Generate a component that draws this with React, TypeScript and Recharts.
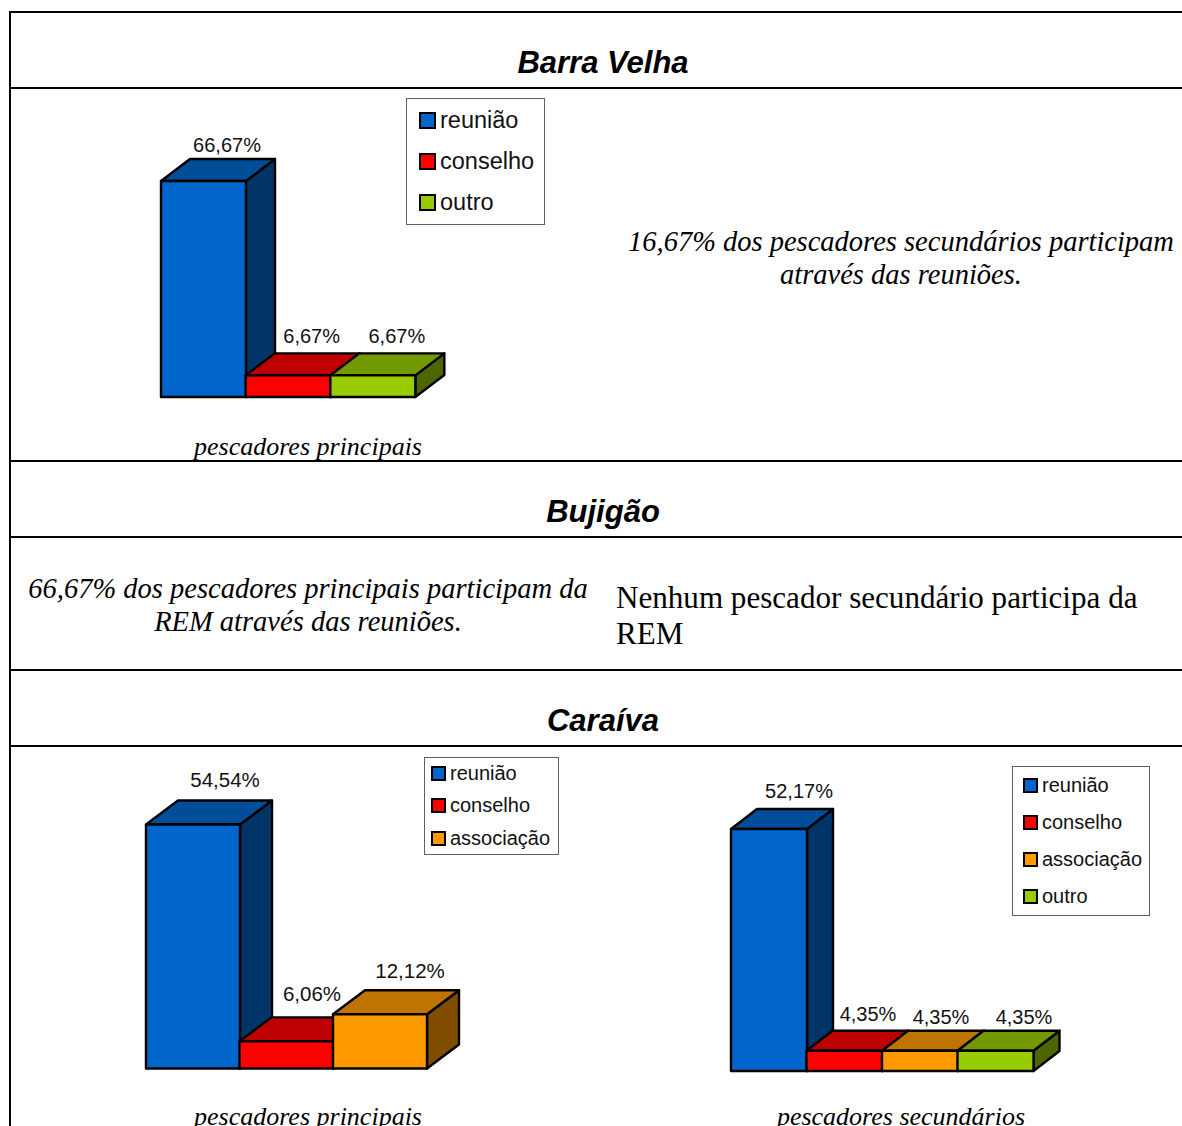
import React from "react";
import { BarChart, Bar, XAxis, YAxis, Cell, LabelList, Legend } from "recharts";

const SANS = "'Liberation Sans', Arial, sans-serif";
const SERIF = "'Liberation Serif', 'Times New Roman', serif";

// categories and values
const barraCats = ["reunião", "conselho", "outro"];
const barraVals = [66.67, 6.67, 6.67];
const caraivaPrincipalCats = ["reunião", "conselho", "associação"];
const caraivaPrincipalVals = [54.54, 6.06, 12.12];
const caraivaSecundarioCats = ["reunião", "conselho", "associação", "outro"];
const caraivaSecundarioVals = [52.17, 4.35, 4.35, 4.35];

const palette: Record<string, { front: string; top: string; side: string }> = {
  "reunião": { front: "#0066CC", top: "#004D99", side: "#003366" },
  "conselho": { front: "#FF0000", top: "#BF0000", side: "#800000" },
  "associação": { front: "#FF9900", top: "#BF7300", side: "#804D00" },
  "outro": { front: "#99CC00", top: "#739900", side: "#4D6600" },
};

const fmt = (v: number) => v.toFixed(2).replace(".", ",") + "%";

const Box3D = (depthX: number, depthY: number) => (props: any) => {
  const { x, y, width, height, payload } = props;
  const c = palette[payload.name];
  const r = x + width;
  const b = y + height;
  const common = { stroke: "#000", strokeWidth: 2.4, strokeLinejoin: "round" as const };
  return (
    <g>
      <polygon points={`${r},${y} ${r + depthX},${y - depthY} ${r + depthX},${b - depthY} ${r},${b}`} fill={c.side} {...common} />
      <polygon points={`${x},${y} ${x + depthX},${y - depthY} ${r + depthX},${y - depthY} ${r},${y}`} fill={c.top} {...common} />
      <rect x={x} y={y} width={width} height={height} fill={c.front} {...common} />
    </g>
  );
};

type ChartProps = {
  cats: string[];
  vals: number[];
  box: { left: number; top: number; width: number; height: number };
  margin: { left: number; right: number; top: number; bottom: number };
  depth: [number, number];
  labelShift: [number, number][];
  labelSize: number;
  legend: { left: number; top: number; width: number; height: number; swatchX: number; textX: number; rows: number[]; font: number; swatch: number };
};

function LegendBox({ cats, l }: { cats: string[]; l: ChartProps["legend"] }) {
  return (
    <div style={{ position: "relative", width: l.width, height: l.height, boxSizing: "border-box", border: "1px solid #606060", background: "#fff" }}>
      {cats.map((c, i) => (
        <React.Fragment key={c}>
          <div style={{ position: "absolute", boxSizing: "border-box", left: l.swatchX, top: l.rows[i] - l.swatch / 2, width: l.swatch, height: l.swatch, background: palette[c].front, border: "2px solid #000" }} />
          <div style={{ position: "absolute", left: l.textX, top: l.rows[i] - 15, height: 30, lineHeight: "30px", fontFamily: SANS, fontSize: l.font, color: "#111", whiteSpace: "nowrap" }}>{c}</div>
        </React.Fragment>
      ))}
    </div>
  );
}

function Chart3D({ cats, vals, box, margin, depth, labelShift, labelSize, legend }: ChartProps) {
  const data = cats.map((name, i) => ({ name, value: vals[i] }));
  const shape = Box3D(depth[0], depth[1]);
  const renderLabel = (p: any) => {
    const { x, y, width, index, value } = p;
    const [dx, dy] = labelShift[index];
    return (
      <text x={x + width / 2 + depth[0] + dx} y={y - depth[1] + dy} textAnchor="middle" dominantBaseline="central" fontFamily={SANS} fontSize={labelSize} fill="#111">
        {fmt(value)}
      </text>
    );
  };
  return (
    <div style={{ position: "absolute", ...box }}>
      <BarChart width={box.width} height={box.height} data={data} margin={margin} barCategoryGap={0}>
        <XAxis dataKey="name" hide />
        <YAxis hide domain={[0, vals[0]]} />
        <Legend
          layout="vertical"
          align="center"
          verticalAlign="middle"
          wrapperStyle={{ left: legend.left, top: legend.top, width: legend.width, height: legend.height }}
          content={() => <LegendBox cats={cats} l={legend} />}
        />
        <Bar dataKey="value" isAnimationActive={false} shape={shape}>
          {data.map((d) => (
            <Cell key={d.name} fill={palette[d.name].front} />
          ))}
          <LabelList dataKey="value" content={renderLabel} />
        </Bar>
      </BarChart>
    </div>
  );
}

const HLine = ({ y }: { y: number }) => (
  <div style={{ position: "absolute", left: 9, top: y, width: 1173, height: 2, background: "#000" }} />
);

const Title = ({ y, children }: { y: number; children: React.ReactNode }) => (
  <div style={{ position: "absolute", left: 10, width: 1186, top: y - 20, height: 40, lineHeight: "40px", textAlign: "center", fontFamily: SANS, fontWeight: "bold", fontStyle: "italic", fontSize: 31, color: "#000" }}>{children}</div>
);

const Note = ({ cx, y, size, italic = true, children }: { cx: number; y: number; size: number; italic?: boolean; children: React.ReactNode }) => (
  <div style={{ position: "absolute", left: cx - 320, width: 640, top: y - 20, height: 40, lineHeight: "40px", textAlign: "center", fontFamily: SERIF, fontStyle: italic ? "italic" : "normal", fontSize: size, color: "#000", whiteSpace: "nowrap" }}>{children}</div>
);

export default function App() {
  return (
    <div style={{ position: "absolute", left: 0, top: 0, width: 1182, height: 1126, overflow: "hidden", background: "#fff" }}>
      <HLine y={11} />
      <div style={{ position: "absolute", left: 9, top: 11, width: 2, height: 1115, background: "#000" }} />
      <HLine y={87} />
      <HLine y={460} />
      <HLine y={536} />
      <HLine y={669} />
      <HLine y={745} />

      <Title y={63}>Barra Velha</Title>
      <Title y={512}>Bujigão</Title>
      <Title y={721}>Caraíva</Title>

      <Chart3D
        cats={barraCats}
        vals={barraVals}
        box={{ left: 140, top: 90, width: 420, height: 320 }}
        margin={{ left: 21, right: 145, top: 91, bottom: 13 }}
        depth={[29, 22]}
        labelShift={[[-5.5, -14], [-5.5, -17], [-5, -17]]}
        labelSize={20}
        legend={{ left: 266, top: 8, width: 139, height: 127, swatchX: 12, textX: 33, rows: [21, 62, 103], font: 23.5, swatch: 17 }}
      />
      <Chart3D
        cats={caraivaPrincipalCats}
        vals={caraivaPrincipalVals}
        box={{ left: 130, top: 750, width: 440, height: 330 }}
        margin={{ left: 16, right: 143.5, top: 74.5, bottom: 11.5 }}
        depth={[32, 24]}
        labelShift={[[0, -21], [-6.5, -24], [-2, -20]]}
        labelSize={20.5}
        legend={{ left: 294, top: 7, width: 135, height: 98, swatchX: 6, textX: 25, rows: [15, 47, 80], font: 20, swatch: 15 }}
      />
      <Chart3D
        cats={caraivaSecundarioCats}
        vals={caraivaSecundarioVals}
        box={{ left: 720, top: 760, width: 440, height: 320 }}
        margin={{ left: 11, right: 127, top: 69, bottom: 9 }}
        depth={[26, 20]}
        labelShift={[[4, -18], [-2.5, -17], [-5, -14], [2.5, -14]]}
        labelSize={20}
        legend={{ left: 292, top: 6, width: 138, height: 150, swatchX: 10, textX: 29, rows: [18, 55, 92, 129], font: 20, swatch: 15 }}
      />

      <Note cx={901} y={242} size={28.5}>16,67% dos pescadores secundários participam</Note>
      <Note cx={901} y={275} size={28.5}>através das reuniões.</Note>
      <Note cx={308} y={447} size={26}>pescadores principais</Note>
      <Note cx={308} y={589} size={28.5}>66,67% dos pescadores principais participam da</Note>
      <Note cx={308} y={622} size={28.5}>REM através das reuniões.</Note>
      <div style={{ position: "absolute", left: 616, top: 580, fontFamily: SERIF, fontSize: 31.1, lineHeight: "36px", color: "#000", whiteSpace: "nowrap" }}>
        Nenhum pescador secundário participa da
        <br />
        REM
      </div>
      <Note cx={308} y={1117} size={26}>pescadores principais</Note>
      <Note cx={901} y={1117} size={26}>pescadores secundários</Note>
    </div>
  );
}
